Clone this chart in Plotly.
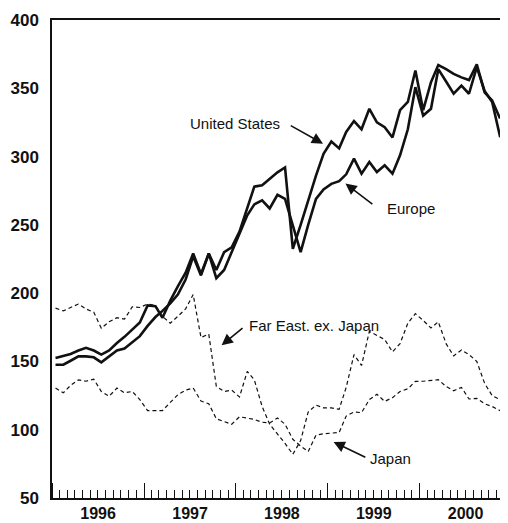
import pandas as pd
import plotly.graph_objects as go

# monthly index levels, Jan 1996 - Dec 2000
months = pd.date_range("1996-01-01", periods=60, freq="MS") + pd.Timedelta(days=14)

united_states = [152.5, 154, 155.5, 158, 160, 158, 155, 158, 163.5, 168,
                 173.5, 178.5, 191, 190.5, 182, 194.5, 205, 215, 229, 214,
                 229, 217, 230, 233.5, 245, 263, 278, 279, 284, 288.5,
                 292, 232.5, 250, 268, 286, 302, 311, 306, 318, 326,
                 320, 335, 325, 321.5, 314, 334, 340, 363, 334, 354.5,
                 367, 364, 360.5, 358, 356, 367.5, 347, 341, 328, 340]

europe = [147.6, 147.6, 150.5, 153.7, 153.7, 153, 149.3, 154, 158, 159.5,
          164, 168.5, 176, 182.5, 187, 192.5, 199, 210, 227, 213,
          229, 211, 217, 230, 244, 257, 265, 268, 262, 272,
          269, 249, 230, 250, 269, 276, 280, 282, 287, 298.5,
          287.5, 296, 288.7, 293.6, 287.5, 300.9, 320, 350.8, 330, 335,
          364, 355, 346, 352, 346, 365.5, 348, 340, 315, 314]

far_east = [189, 187, 189.5, 192, 188.5, 186, 174.3, 179, 182, 181,
            190, 189.5, 192, 191, 183, 178, 183, 188.5, 199, 167.5,
            170, 131.7, 128, 129, 124, 142.7, 136.5, 117, 104, 97,
            90, 82, 92, 113, 118, 116, 116, 115, 131, 155,
            147, 172, 169, 166, 157, 163, 178, 185, 180, 174.5,
            179, 163, 154, 158.4, 155, 150, 134, 125, 122, 120.7]

japan = [130.5, 127, 132.5, 136.5, 135.5, 137, 128, 124.5, 130.5, 127,
         128, 122, 114, 113.8, 114, 120, 125.6, 129, 130.5, 121,
         119, 108, 106, 104, 109.5, 108.6, 107.5, 105.5, 105, 108.6,
         104, 93, 88, 84, 96, 97, 97.6, 98, 110, 113,
         112.5, 122, 126, 120.7, 123.5, 128, 130, 135.4, 135.5, 136,
         136.6, 131.7, 128.5, 131, 122.5, 123, 119, 117, 114, 110]

fig = go.Figure()

for series in [far_east, japan]:
    fig.add_trace(go.Scatter(x=months, y=series, mode="lines",
                             line=dict(color="#111", width=1.2, dash="4px,3px")))

for series in [europe, united_states]:
    fig.add_trace(go.Scatter(x=months, y=series, mode="lines",
                             line=dict(color="#111", width=2.6)))

label_font = dict(family="Liberation Sans, Arial, sans-serif", size=15, color="#111")

# labels with pointer arrows: (text, text pos, arrow tail, arrow tip)
labels = [
    ("United States", ("1997-12-30", 324), ("1998-08-01", 323.3), ("1998-12-13", 309.4)),
    ("Europe", ("1999-11-27", 262), ("1999-07-03", 264.4), ("1999-03-12", 280.2)),
    ("Far East. ex. Japan", ("1998-11-08", 176.5), ("1998-02-02", 175.3), ("1997-11-05", 161.9)),
    ("Japan", ("1999-09-09", 78.6), ("1999-06-05", 79.3), ("1999-01-24", 91)),
]

for text, pos, tail, tip in labels:
    fig.add_annotation(x=pos[0], y=pos[1], text=text, showarrow=False, font=label_font)
    fig.add_annotation(x=tip[0], y=tip[1], ax=tail[0], ay=tail[1], axref="x", ayref="y",
                       text="", showarrow=True, arrowhead=2, arrowsize=1.4,
                       arrowwidth=1.6, arrowcolor="#111")

tick_font = dict(family="Liberation Sans, Arial, sans-serif", size=17, color="#111", weight="bold")

fig.update_xaxes(
    type="date",
    range=["1996-01-01", "2000-12-17"],
    tick0="1996-01-01", dtick="M12", tickformat="%Y",
    ticklabelmode="period",
    ticks="inside", ticklen=15, tickwidth=1, tickcolor="#111",
    minor=dict(dtick="M1", ticks="inside", ticklen=8, tickwidth=1, tickcolor="#111"),
    showline=True, linecolor="#111", linewidth=1.5, mirror=True,
    showgrid=False, zeroline=False, automargin=False,
    tickfont=dict(tick_font, size=16),
)

fig.update_yaxes(
    range=[50, 400], dtick=50,
    ticks="", ticklabelstandoff=8,
    showline=True, linecolor="#111", linewidth=1.5,
    showgrid=False, zeroline=False, tickfont=tick_font, automargin=False,
)

# page body adds an 8px offset, so the figure is sized to the remaining space
fig.update_layout(
    width=500, height=515,
    margin=dict(l=44, r=0, t=12, b=25),
    plot_bgcolor="white", paper_bgcolor="white",
    showlegend=False,
)

fig.write_html("out.html")
